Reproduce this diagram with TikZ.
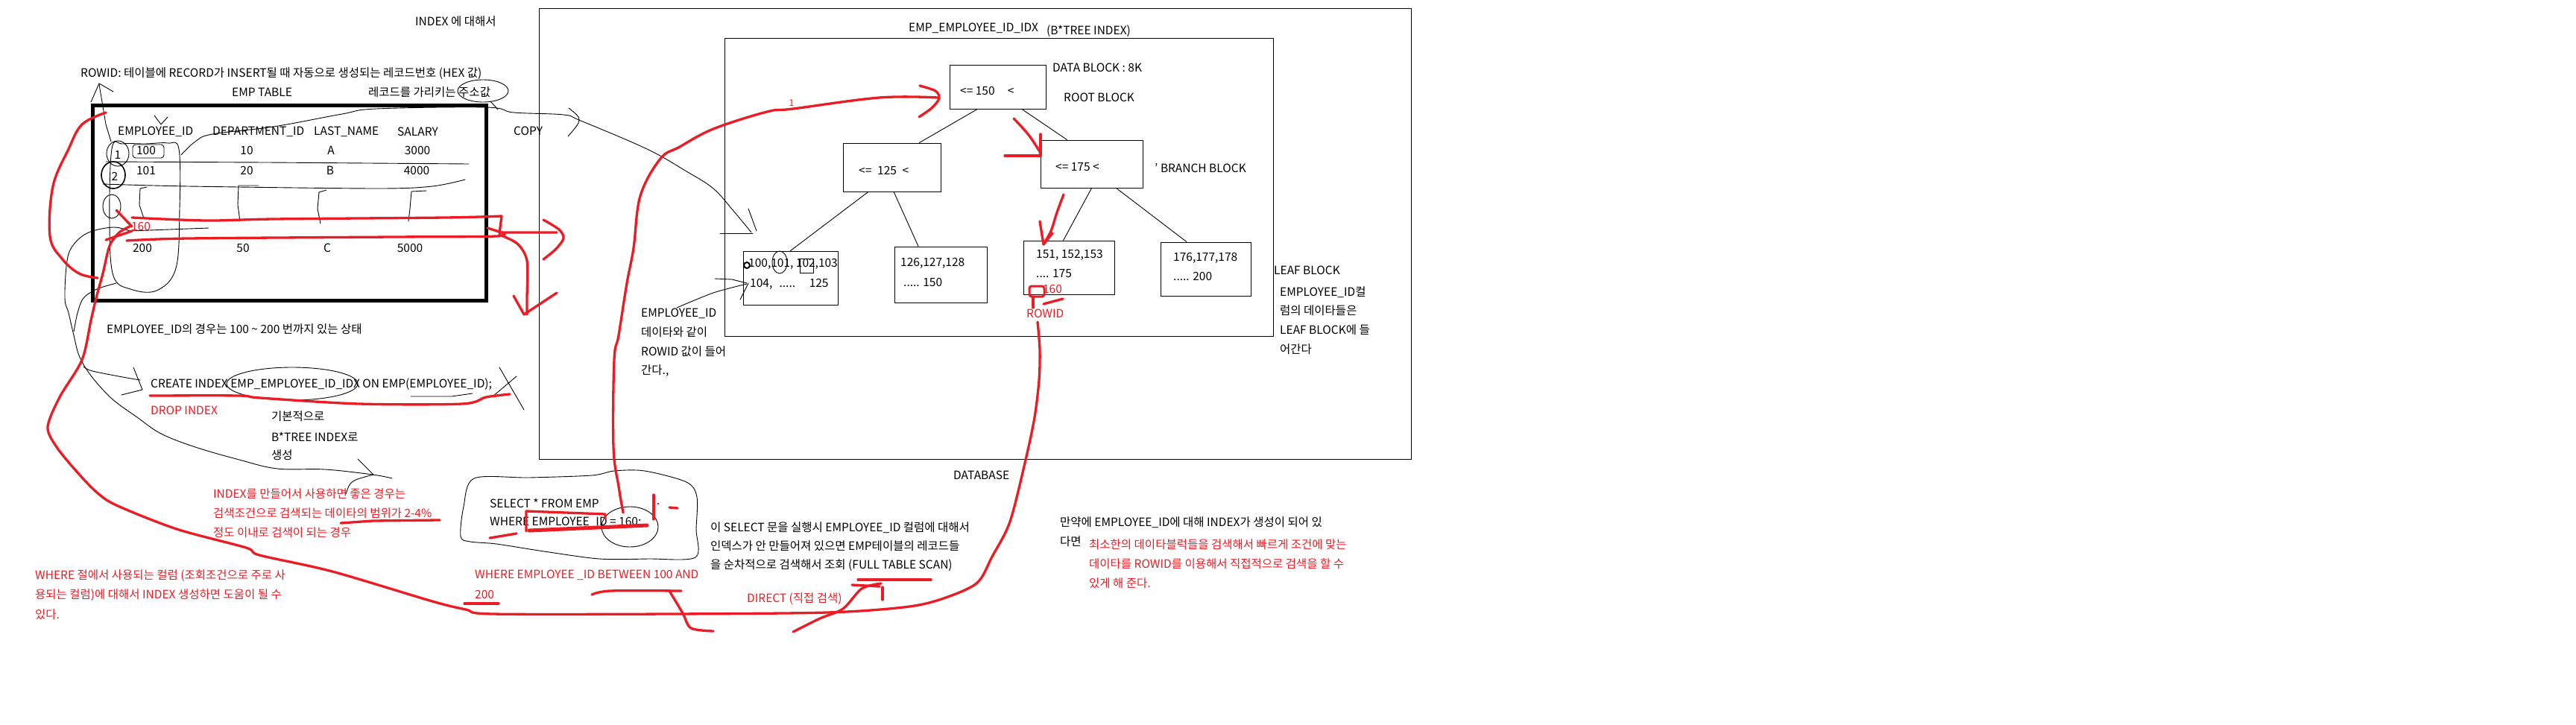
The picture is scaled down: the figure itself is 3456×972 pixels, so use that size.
\documentclass[tikz,border=0pt]{standalone}
\usepackage{fontspec}
\setmainfont{Noto Sans CJK KR}
\usetikzlibrary{calc}
\definecolor{pred}{RGB}{237,28,36}
\begin{document}
\begin{tikzpicture}[x=1pt,y=-1pt,
  txt/.style={font=\fontsize{15.5}{18}\selectfont, inner sep=0pt, anchor=west},
  ctxt/.style={font=\fontsize{15.5}{18}\selectfont, inner sep=0pt, anchor=center},
  rtxt/.style={txt, text=pred},
  rctxt/.style={ctxt, text=pred},
  blockbox/.style={draw, line width=1pt, inner sep=0pt},
  ink/.style={draw, line width=0.9pt, line cap=round, line join=round},
  redink/.style={draw=pred, line width=3.3pt, line cap=round, line join=round},
]
\useasboundingbox[fill=white] (0,0) rectangle (3456,972);

% ---------- frames ----------
\node[blockbox, minimum width=1170pt, minimum height=605pt] (db) at (1308,313.5) {};
\node[blockbox, minimum width=736pt, minimum height=400pt] (idx) at (1340,251) {};
\node[draw, line width=5pt, inner sep=0pt, minimum width=528pt, minimum height=262pt] (emptbl) at (388,272) {};

% ---------- B*tree blocks ----------
\node[blockbox, minimum width=129pt, minimum height=59pt] (root) at (1338.5,116.5) {};
\node[blockbox, minimum width=131pt, minimum height=65pt] (brl) at (1196.5,224.5) {};
\node[blockbox, minimum width=137pt, minimum height=64pt] (brr) at (1464.5,220) {};
\node[blockbox, minimum width=127pt, minimum height=72pt] (lf1) at (1060.5,373) {};
\node[blockbox, minimum width=124pt, minimum height=75pt] (lf2) at (1262,368.5) {};
\node[blockbox, minimum width=122pt, minimum height=72pt] (lf3) at (1434,359) {};
\node[blockbox, minimum width=121pt, minimum height=72pt] (lf4) at (1617.5,361) {};

\draw[ink] ($(root.south west)!0.29!(root.south east)$) -- ($(brl.north west)!0.78!(brl.north east)$);
\draw[ink] ($(root.south west)!0.75!(root.south east)$) -- ($(brr.north west)!0.26!(brr.north east)$);
\draw[ink] ($(brl.south west)!0.26!(brl.south east)$) -- ($(lf1.north west)!0.5!(lf1.north east)$);
\draw[ink] ($(brl.south west)!0.52!(brl.south east)$) -- ($(lf2.north west)!0.26!(lf2.north east)$);
\draw[ink] ($(brr.south west)!0.5!(brr.south east)$) -- ($(lf3.north west)!0.44!(lf3.north east)$);
\draw[ink] ($(brr.south west)!0.74!(brr.south east)$) -- ($(lf4.north west)!0.29!(lf4.north east)$);

% block texts
\node[txt] (troot) at (1288,122) {<= 150\hspace{1.1em}<};
\node[txt] (tbrl) at (1152,229) {<=\hspace{0.5em}125\hspace{0.5em}<};
\node[txt] (tbrr) at (1416,224) {<= 175 <};
\node[txt] (tl1a) at (1004,354) {100,101, 102,103};
\node[txt] (tl1b) at (1006,381) {104,\hspace{0.6em}.....\hspace{1.2em}125};
\node[txt] (tl2a) at (1208,353) {126,127,128};
\node[txt] (tl2b) at (1212,379) {..... 150};
\node[txt] (tl3a) at (1390,342) {151, 152,153};
\node[txt] (tl3b) at (1390,367) {.... 175};
\node[rctxt] (tl3c) at (1412,388) {160};
\node[txt] (tl4a) at (1574,346) {176,177,178};
\node[txt] (tl4b) at (1574,371) {..... 200};

% ---------- texts top / table ----------
\node[txt] (ttitle) at (557,29) {INDEX 에 대해서};
\node[txt] (trowid) at (108,99) {ROWID: 테이블에 RECORD가 INSERT될 때 자동으로 생성되는 레코드번호 (HEX 값)};
\node[txt] (temp) at (311,124) {EMP TABLE};
\node[txt] (taddr) at (494,124) {레코드를 가리키는 주소값};
\node[txt] (h1) at (158,177) {EMPLOYEE\_ID};
\node[txt] (h2) at (285,177) {DEPARTMENT\_ID};
\node[txt] (h3) at (421,177) {LAST\_NAME};
\node[txt] (h4) at (533,177) {SALARY};
\node[ctxt] (r11) at (196,202) {100};
\node[ctxt] (r12) at (331,202) {10};
\node[ctxt] (r13) at (444,202) {A};
\node[ctxt] (r14) at (560,202) {3000};
\node[ctxt] (r21) at (196,229) {101};
\node[ctxt] (r22) at (331,229) {20};
\node[ctxt] (r23) at (443,229) {B};
\node[ctxt] (r24) at (559,229) {4000};
\node[rctxt] (r160) at (189,304) {160};
\node[ctxt] (r31) at (191,333) {200};
\node[ctxt] (r32) at (326,333) {50};
\node[ctxt] (r33) at (439,333) {C};
\node[ctxt] (r34) at (550,333) {5000};
\node[ctxt] (n1) at (158,208) {1};
\node[ctxt] (n2) at (154,237) {2};
\node[txt] (tcopy) at (689,176) {COPY};

% ---------- index texts ----------
\node[txt] (tidx) at (1219,38) {EMP\_EMPLOYEE\_ID\_IDX};
\node[txt] (tbtree) at (1404,42) {(B*TREE INDEX)};
\node[txt] (tdblk) at (1412,91) {DATA BLOCK : 8K};
\node[txt] (troblk) at (1427,131) {ROOT BLOCK};
\node[txt] (tbrblk) at (1549,226) {{\char"0027} BRANCH BLOCK};
\node[txt] (tlfblk) at (1709,363) {LEAF BLOCK};
\node[txt] (tlf1) at (1717,392) {EMPLOYEE\_ID컬};
\node[txt] (tlf2) at (1717,417) {럼의 데이타들은};
\node[txt] (tlf3) at (1717,443) {LEAF BLOCK에 들};
\node[txt] (tlf4) at (1717,469) {어간다};
\node[txt] (te1) at (860,421) {EMPLOYEE\_ID};
\node[txt] (te2) at (860,446) {데이타와 같이};
\node[txt] (te3) at (860,472) {ROWID 값이 들어};
\node[txt] (te4) at (860,498) {간다.,};
\node[rtxt] (trowidred) at (1377,421) {ROWID};
\node[txt] (tdb) at (1279,638) {DATABASE};

% ---------- lower texts ----------
\node[txt] (tstate) at (143,442) {EMPLOYEE\_ID의 경우는 100 \textasciitilde\ 200 번까지 있는 상태};
\node[txt] (tcreate) at (202,516) {CREATE INDEX EMP\_EMPLOYEE\_ID\_IDX ON EMP(EMPLOYEE\_ID);};
\node[rtxt] (tdrop) at (202,551) {DROP INDEX};
\node[txt] (tb1) at (364,559) {기본적으로};
\node[txt] (tb2) at (364,586) {B*TREE INDEX로};
\node[txt] (tb3) at (364,611) {생성};
\node[rtxt] (tg1) at (286,663) {INDEX를 만들어서 사용하면 좋은 경우는};
\node[rtxt] (tg2) at (286,689) {검색조건으로 검색되는 데이타의 범위가 2-4\%};
\node[rtxt] (tg3) at (286,715) {정도 이내로 검색이 되는 경우};
\node[rtxt] (tw1) at (47,773) {WHERE 절에서 사용되는 컬럼 (조회조건으로 주로 사};
\node[rtxt] (tw2) at (47,799) {용되는 컬럼)에 대해서 INDEX 생성하면 도움이 될 수};
\node[rtxt] (tw3) at (47,825) {있다.};
\node[txt] (ts1) at (657,675) {SELECT * FROM EMP};
\node[txt] (ts2) at (657,701) {WHERE EMPLOYEE\_ID = 160;};
\node[rtxt] (tbw1) at (637,772) {WHERE EMPLOYEE \_ID BETWEEN 100 AND};
\node[rtxt] (tbw2) at (637,798) {200};
\node[txt] (tf1) at (953,708) {이 SELECT 문을 실행시 EMPLOYEE\_ID 컬럼에 대해서};
\node[txt] (tf2) at (953,733) {인덱스가 안 만들어져 있으면 EMP테이블의 레코드들};
\node[txt] (tf3) at (953,759) {을 순차적으로 검색해서 조회 (FULL TABLE SCAN)};
\node[rtxt] (tdirect) at (1002,804) {DIRECT (직접 검색)};
\node[txt] (tm1) at (1422,701) {만약에 EMPLOYEE\_ID에 대해 INDEX가 생성이 되어 있};
\node[txt] (tm2) at (1422,727) {다면};
\node[rtxt] (tm3) at (1461,731) {최소한의 데이타블럭들을 검색해서 빠르게 조건에 맞는};
\node[rtxt] (tm4) at (1461,757) {데이타를 ROWID를 이용해서 직접적으로 검색을 할 수};
\node[rtxt] (tm5) at (1461,783) {있게 해 준다.};
\node[font=\fontsize{12}{13}\selectfont, text=pred, inner sep=0pt] (tone) at (1062,138) {1};

% ---------- black freehand strokes ----------
\draw[ink] plot[smooth, tension=0.6] coordinates {(243,208) (262,190) (285,180) (367,170) (459,153) (505,146) (652,144) (689,151) (756,154) (779,162) (868,200) (921,230) (957,253) (984,283) (1008,312)};
\draw[ink] (763,145) .. controls (782,160) .. (762,183);
\draw[ink] (1004,280) -- (1015,310);
\draw[ink] (966,313) -- (1010,313);
\draw[ink] (648,122) ellipse [x radius=34pt, y radius=15pt];
\draw[ink] (658,136) -- (668,147);
\draw[ink] (149,190) -- (142,167) -- (133,113);
\draw[ink] (122,137) -- (133,112) -- (152,123);
\draw[ink] (207,155) -- (216,167) -- (225,157);
\draw[ink] (158,206) ellipse [x radius=15pt, y radius=17pt];
\draw[ink, line width=1.6pt] (152,235) ellipse [x radius=16pt, y radius=18pt];
\draw[ink] (150,277) ellipse [x radius=12pt, y radius=16pt];
\draw[ink] plot[smooth cycle, tension=0.6] coordinates {(150,200) (147,300) (152,370) (175,388) (210,390) (236,360) (241,280) (240,200) (225,192) (195,193) (165,193)};
\draw[ink, rounded corners=4pt] (178,194) rectangle (220,212);
\draw[ink] (142,217) -- (358,218) -- (629,220);
\draw[ink] plot[smooth] coordinates {(138,247) (253,250) (505,253) (580,250) (624,241)};
\draw[ink] (197,251) -- (188,253) -- (187,275) -- (193,293);
\draw[ink] (347,249) -- (320,249) -- (319,275) -- (322,297);
\draw[ink] (438,255) -- (428,258) -- (426,280) -- (430,300);
\draw[ink] (572,256) -- (552,257) -- (550,280) -- (548,297);
\draw[ink] (280,306) -- (174,310);
\draw[ink] plot[smooth, tension=0.6] coordinates {(174,310) (152,305) (119,312) (99,328) (90,350) (87,400) (92,420) (99,450) (106,477) (119,500) (138,523) (156,540) (184,560) (216,582) (262,600) (321,617) (372,629) (436,630) (500,637) (526,642)};
\draw[ink] (480,616) -- (501,637);
\draw[ink] (501,637) .. controls (470,645) .. (464,663);
\draw[ink] plot[smooth] coordinates {(112,492) (124,498) (170,507) (188,510)};
\draw[ink] (179,493) -- (191,523) -- (163,530);
\draw[ink] plot[smooth] coordinates {(99,445) (104,420) (112,400) (130,388) (156,380)};
\draw[ink] (392,515) ellipse [x radius=88pt, y radius=22pt];
\draw[ink] (551,532) -- (606,532) -- (634,528);
\draw[ink] (670,493) -- (703,550);
\draw[ink] (693,505) -- (661,532);
\draw[ink] plot[smooth cycle, tension=0.5] coordinates {(636,642) (710,641) (794,638) (824,632) (865,632) (921,647) (935,667) (934,710) (933,748) (870,750) (804,750) (730,740) (666,730) (631,727) (618,720) (622,680)};
\draw[ink] (845,707) ellipse [x radius=38pt, y radius=27pt];
\draw[ink] plot[smooth] coordinates {(908,413) (957,393) (1002,381)};
\draw[ink] (959,374) -- (982,375) -- (1002,380);
\draw[ink] (993,402) -- (1004,380);
\draw[ink] (1046,352) ellipse [x radius=10pt, y radius=15pt];
\draw[ink] (1073,347) rectangle (1091,366);
\draw[ink, line width=2pt] (1002,356) circle [radius=4pt];

% ---------- red freehand strokes ----------
\draw[redink] plot[smooth, tension=0.6] coordinates {(836,688) (830,653) (823,600) (824,483) (830,450) (841,380) (850,333) (859,263) (886,213) (912,197) (957,173) (1029,150) (1064,146) (1180,131) (1258,131)};
\draw[redink] plot[smooth] coordinates {(1234,115) (1255,122) (1260,132) (1250,145) (1233,157)};
\draw[redink] (1360,159) .. controls (1380,180) .. (1396,205);
\draw[redink] (1396,180) -- (1396,209) -- (1348,209);
\draw[redink] plot[smooth] coordinates {(1427,261) (1418,285) (1410,310) (1400,328)};
\draw[redink] (1395,297) -- (1400,328) -- (1412,313);
\draw[redink, line width=3pt, rounded corners=3pt] (1381,384) rectangle (1401,398);
\draw[redink] (1386,398) -- (1386,413);
\draw[redink] (1400,408) -- (1426,401);
\draw[redink] plot[smooth, tension=0.5] coordinates {(1392,432) (1395,470) (1394,510) (1388,560) (1376,617) (1355,700) (1331,747) (1310,783) (1260,805) (1212,815) (1110,822) (900,824) (661,824) (625,818) (580,807) (446,767) (348,745) (330,735) (237,710) (156,678) (129,660) (103,633) (76,600) (64,573) (80,533) (110,483) (122,430) (129,400) (138,367) (147,330) (160,312) (174,304)};
\draw[redink] (156,282) -- (177,304);
\draw[redink] (142,322) -- (177,310);
\draw[redink] plot[smooth] coordinates {(177,292) (276,296) (367,294) (597,292) (673,290)};
\draw[redink] (673,290) -- (670,313);
\draw[redink] plot[smooth] coordinates {(170,323) (253,320) (528,318) (666,317) (673,312)};
\draw[redink] (654,306) -- (673,312) -- (747,312);
\draw[redink] plot[smooth] coordinates {(729,295) (750,308) (756,320) (745,335) (729,348)};
\draw[redink] plot[smooth] coordinates {(670,315) (694,327) (707,350) (707,400) (707,422)};
\draw[redink] (689,397) -- (703,422) -- (747,393);
\draw[redink] plot[smooth, tension=0.6] coordinates {(142,151) (110,167) (92,200) (71,250) (67,317) (83,347) (106,367) (131,373)};
\draw[redink] plot[smooth] coordinates {(201,531) (321,531) (349,534) (482,542) (620,542) (652,533) (684,529)};
\draw[redink] (457,702) -- (500,699) -- (590,698);
\draw[redink, line width=5pt] (710,712) -- (868,705);
\draw[redink] (706,713) -- (706,686) -- (812,690) -- (812,696);
\draw[redink] (877,664) -- (877,697);
\fill[pred] (883,676) circle [radius=1.5pt];
\draw[redink] (898,681) -- (909,682);
\draw[redink] (657,722) -- (693,716);
\draw[redink] (623,810) -- (669,810);
\draw[redink] plot[smooth] coordinates {(794,798) (819,793) (914,793)};
\draw[redink] plot[smooth] coordinates {(898,793) (916,823) (927,843) (957,847)};
\draw[redink] (1151,778) -- (1249,778);
\draw[redink] plot[smooth] coordinates {(1064,848) (1100,830) (1131,817) (1156,790) (1182,783)};
\draw[redink] (1143,785) -- (1180,787);
\draw[redink] (1184,788) -- (1184,805);
\end{tikzpicture}
\end{document}
